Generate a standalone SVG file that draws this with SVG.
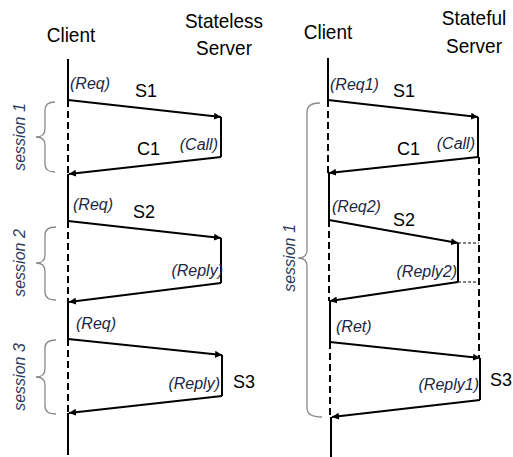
<svg xmlns="http://www.w3.org/2000/svg" width="513" height="457" viewBox="0 0 513 457">
  <defs>
    <marker id="arrow" markerUnits="userSpaceOnUse" markerWidth="8" markerHeight="7" refX="7" refY="3.5" orient="auto">
      <path d="M0,0 L7,3.5 L0,7 Z" fill="#000"/>
    </marker>
    <style>
      .title { font-family: "Liberation Sans", Arial, sans-serif; font-size: 19px; fill: #000; }
      .name { font-family: "Liberation Sans", Arial, sans-serif; font-size: 18px; fill: #000; }
      .note { font-family: "Liberation Sans", Arial, sans-serif; font-size: 16px; font-style: italic; fill: #1a2744; }
      .sess { font-family: "Liberation Sans", Arial, sans-serif; font-size: 16px; font-style: italic; fill: #2e3b5c; }
      .life { stroke: #000; stroke-width: 2; fill: none; }
      .dash { stroke: #000; stroke-width: 2; fill: none; stroke-dasharray: 7 4; }
      .msg { stroke: #000; stroke-width: 2; fill: none; marker-end: url(#arrow); }
      .proc { stroke: #000; stroke-width: 2; fill: none; }
      .dot { stroke: #000; stroke-width: 1; fill: none; stroke-dasharray: 3 2; }
      .brace { stroke: #8a8a8a; stroke-width: 1.3; fill: none; }
    </style>
  </defs>

  <!-- Stateless side -->
  <g id="stateless-client">
    <text class="title" transform="matrix(1,0,0,1.1,71,42)" text-anchor="middle">Client</text>
    <path class="life" d="M68,59 V100 M68,174 V221 M68,302 V339 M68,413 V455"/>
    <path class="dash" d="M68,100 V174 M68,221 V302 M68,339 V413"/>
  </g>
  <g id="stateless-server">
    <text class="title" transform="matrix(1,0,0,1.1,224,28)" text-anchor="middle">Stateless</text>
    <text class="title" transform="matrix(1,0,0,1.1,224,55)" text-anchor="middle">Server</text>
    <path class="proc" d="M221,117 V157 M221,238 V283 M222,355 V396"/>
  </g>
  <g id="stateless-sessions">
    <path class="brace" d="M55,102 Q45,102 45,110 V129 Q45,137 36,137 Q45,137 45,145 V164 Q45,172 55,172"/>
    <path class="brace" d="M56,227 Q45,227 45,235 V255 Q45,263 36,263 Q45,263 45,271 V292 Q45,300 56,300"/>
    <path class="brace" d="M56,340 Q45,340 45,348 V369 Q45,377 36,377 Q45,377 45,385 V406 Q45,414 56,414"/>
    <text class="sess" transform="translate(25,137) rotate(-90)" text-anchor="middle">session 1</text>
    <text class="sess" transform="translate(25,263) rotate(-90)" text-anchor="middle">session 2</text>
    <text class="sess" transform="translate(25,377) rotate(-90)" text-anchor="middle">session 3</text>
  </g>

  <!-- Stateful side -->
  <g id="stateful-client">
    <text class="title" transform="matrix(1,0,0,1.1,328,39)" text-anchor="middle">Client</text>
    <path class="life" d="M328,58 V100 M329,173 V220 M330,301 V342 M331,417 V457"/>
    <path class="dash" d="M328,100 V173 M329,220 V301 M330,342 V417"/>
  </g>
  <g id="stateful-server">
    <text class="title" transform="matrix(1,0,0,1.1,474,25)" text-anchor="middle">Stateful</text>
    <text class="title" transform="matrix(1,0,0,1.1,474,53)" text-anchor="middle">Server</text>
    <path class="proc" d="M478,117 V157 M458,243 V282 M480,358 V400"/>
    <path class="dash" d="M479,157 V358"/>
    <path class="dot" d="M458,243 H479 M458,282 H479"/>
  </g>
  <g id="stateful-session">
    <path class="brace" d="M320,103 Q307,103 307,112 V250 Q307,258 298,258 Q307,258 307,266 V408 Q307,417 322,417"/>
    <text class="sess" transform="translate(295,258) rotate(-90)" text-anchor="middle">session 1</text>
  </g>

  <!-- Messages -->
  <g id="connectors">
    <line class="msg" x1="68" y1="100" x2="221" y2="117"/>
    <line class="msg" x1="221" y1="157" x2="69" y2="174"/>
    <line class="msg" x1="68" y1="221" x2="221" y2="238"/>
    <line class="msg" x1="221" y1="283" x2="69" y2="302"/>
    <line class="msg" x1="68" y1="339" x2="222" y2="355"/>
    <line class="msg" x1="222" y1="396" x2="69" y2="413"/>

    <line class="msg" x1="328" y1="100" x2="478" y2="117"/>
    <line class="msg" x1="478" y1="157" x2="329" y2="173"/>
    <line class="msg" x1="329" y1="220" x2="458" y2="243"/>
    <line class="msg" x1="458" y1="282" x2="330" y2="301"/>
    <line class="msg" x1="330" y1="342" x2="480" y2="358"/>
    <line class="msg" x1="480" y1="400" x2="332" y2="417"/>
  </g>

  <!-- Message labels -->
  <g id="labels-stateless">
    <text class="note" x="70" y="89">(Req)</text>
    <text class="name" x="135" y="97">S1</text>
    <text class="name" x="137" y="155">C1</text>
    <text class="note" x="218" y="150" text-anchor="end">(Call)</text>
    <text class="note" x="73" y="210">(Req)</text>
    <text class="name" x="133" y="218">S2</text>
    <text class="note" x="223" y="276" text-anchor="end">(Reply)</text>
    <text class="note" x="76" y="329">(Req)</text>
    <text class="note" x="220" y="389" text-anchor="end">(Reply)</text>
    <text class="name" x="233" y="388">S3</text>
  </g>
  <g id="labels-stateful">
    <text class="note" x="330" y="90">(Req1)</text>
    <text class="name" x="393" y="97">S1</text>
    <text class="name" x="397" y="155">C1</text>
    <text class="note" x="475" y="149" text-anchor="end">(Call)</text>
    <text class="note" x="332" y="212">(Req2)</text>
    <text class="name" x="393" y="226">S2</text>
    <text class="note" x="457" y="277" text-anchor="end">(Reply2)</text>
    <text class="note" x="336" y="332">(Ret)</text>
    <text class="note" x="479" y="390" text-anchor="end">(Reply1)</text>
    <text class="name" x="490" y="386">S3</text>
  </g>
</svg>
